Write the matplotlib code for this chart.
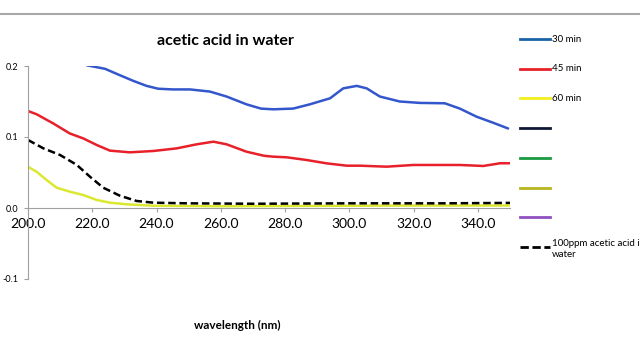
import matplotlib
matplotlib.use("Agg")
import matplotlib.pyplot as plt
from matplotlib.lines import Line2D

plt.rcParams['font.family'] = ['Lato', 'DejaVu Sans']

wl_30 = [218.3, 224, 228.6, 232.8, 236.9, 240.5, 245.2, 250.4, 256.6, 261.8, 268, 272.5,
         276.3, 282.5, 287.7, 294, 298.1, 302.3, 305.4, 309.5, 315.7, 322, 329.7, 334.4,
         339.6, 344.8, 349.4]
abs_30 = [0.201, 0.196, 0.187, 0.179, 0.172, 0.168, 0.167, 0.167, 0.164, 0.157, 0.146,
          0.140, 0.139, 0.140, 0.146, 0.1545, 0.1685, 0.172, 0.1685, 0.157, 0.150, 0.148,
          0.1475, 0.140, 0.1286, 0.120, 0.112]

wl_45 = [200, 202.7, 207.9, 213, 217.2, 221.4, 225.5, 231.7, 239, 246.3, 252.5, 257.7,
         261.8, 268, 273.5, 276.3, 280.5, 286.7, 292.9, 299.2, 303.3, 311.6, 319.9, 334.4,
         341.7, 346.9, 350]
abs_45 = [0.1366, 0.132, 0.119, 0.105, 0.098, 0.0887, 0.0808, 0.0784, 0.0803, 0.084,
          0.0897, 0.0934, 0.0897, 0.0793, 0.0735, 0.0723, 0.0714, 0.0676, 0.0629, 0.0596,
          0.0596, 0.0582, 0.0606, 0.0606, 0.0592, 0.063, 0.063]

wl_60 = [200, 202.7, 205.8, 208.9, 213, 217.2, 221.4, 225.5, 230.7, 239, 260, 290, 320, 350]
abs_60 = [0.058, 0.051, 0.0394, 0.0286, 0.023, 0.0183, 0.0113, 0.0075, 0.0052, 0.0032,
          0.0025, 0.003, 0.0035, 0.0035]

wl_ref = [200, 204.8, 210, 215.2, 219.3, 223.4, 228.6, 233.8, 239, 249.4, 270, 300, 330, 350]
abs_ref = [0.0958, 0.084, 0.0746, 0.0606, 0.044, 0.0286, 0.0173, 0.0099, 0.0075, 0.0066,
           0.006, 0.0066, 0.0066, 0.0072]

legend_labels = ['30 min', '45 min', '60 min', '', '', '', '', '100ppm acetic acid in\nwater']
legend_colors = ['#1a63a8', '#e8202a', '#f4ee1c', '#101838', '#1a9a40', '#b8b420', '#9050c0', 'black']
legend_styles = ['-'] * 7 + ['--']

fig = plt.figure(figsize=(6.4, 3.59), dpi=100)
ax = fig.add_axes([28 / 640, 1 - 279 / 359, 482 / 640, 213 / 359])

kw = dict(lw=1.8, solid_joinstyle='round', solid_capstyle='round')
ax.plot(wl_30, abs_30, color='#3356cc', **kw)
ax.plot(wl_45, abs_45, color='#e8202a', **kw)
ax.plot(wl_60, abs_60, color='#dce830', **kw)
ax.plot(wl_ref, abs_ref, color='black', lw=1.8, ls=(0, (3, 1.5)))

ax.set_xlim(200, 350)
ax.set_ylim(-0.1, 0.2)
ax.set_xticks(range(200, 341, 20))
ax.set_xticklabels([f"{v:.1f}" for v in range(200, 341, 20)], fontsize=6.5)
ax.set_yticks([-0.1, 0.0, 0.1, 0.2])
ax.set_yticklabels(['-0.1', '0.0', '0.1', '0.2'], fontsize=6.5)
ax.spines['top'].set_visible(False)
ax.spines['right'].set_visible(False)
ax.spines['bottom'].set_position(('data', 0))
for s in ('left', 'bottom'):
    ax.spines[s].set_color('#a0a0a0')
ax.tick_params(axis='both', colors='#a0a0a0', labelcolor='black', length=3)
ax.tick_params(axis='y', pad=4)
ax.tick_params(axis='x', pad=4)

fig.text(225 / 640, 1 - 41 / 359, 'acetic acid in water', ha='center', va='center',
         fontsize=11.5, fontweight='bold')
fig.text(237 / 640, 1 - 325 / 359, 'wavelength (nm)', ha='center', va='center',
         fontsize=8.5, fontweight='bold')

fig.add_artist(Line2D([0, 1], [1 - 14 / 359] * 2, color='#a8a8a8', lw=1.5))

for i, (lab, col, st) in enumerate(zip(legend_labels, legend_colors, legend_styles)):
    y = 1 - (39 + i * 29.7) / 359
    fig.add_artist(Line2D([520 / 640, 550 / 640], [y, y], color=col, lw=2,
                          ls=(0, (3, 1.3)) if st == '--' else '-'))
    if lab:
        fig.text(552 / 640, y + (0.021 if '\n' in lab else 0), lab, ha='left',
                 va='top' if '\n' in lab else 'center',
                 fontsize=7, linespacing=1.2)

fig.savefig('out.png', dpi=100)
